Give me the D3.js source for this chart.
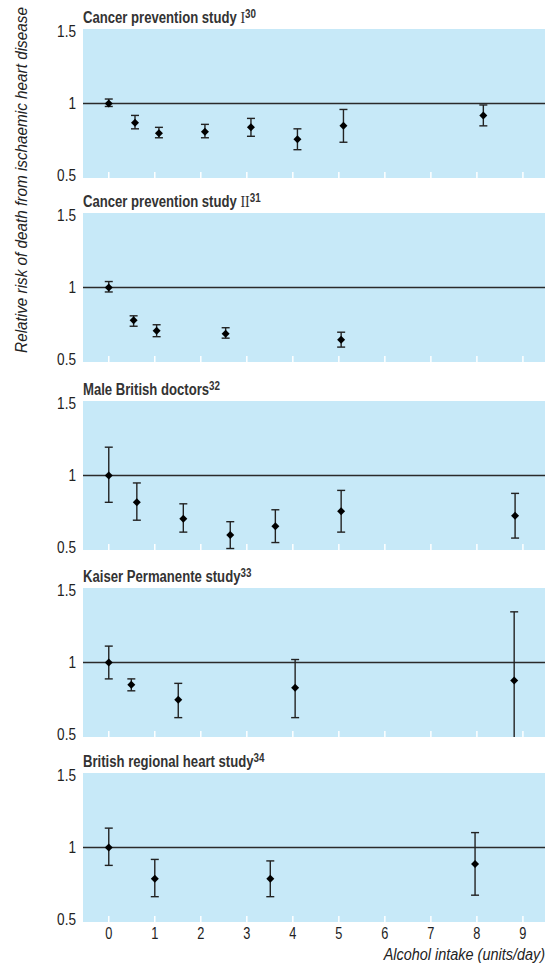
<!DOCTYPE html>
<html>
<head>
<meta charset="utf-8">
<script src="https://cdn.jsdelivr.net/npm/d3@7"></script>
<style>
  body { margin: 0; background: #fff; }
  svg text { font-family: "Liberation Sans", Arial, sans-serif; }
</style>
</head>
<body>
<svg id="chart" width="552" height="965"></svg>
<script>
// study names, roman numerals and reference numbers
const titles = ['Cancer prevention study ', 'Cancer prevention study ', 'Male British doctors', 'Kaiser Permanente study', 'British regional heart study'];
const numerals = ['I', 'II', '', '', ''];
const refs = ['30', '31', '32', '33', '34'];

// alcohol intake (units/day) for each point
const intake1 = [0, 0.57, 1.09, 2.09, 3.09, 4.1, 5.1, 8.14];
const intake2 = [0, 0.54, 1.04, 2.54, 5.05];
const intake3 = [0, 0.61, 1.62, 2.64, 3.62, 5.05, 8.83];
const intake4 = [0, 0.49, 1.51, 4.05, 8.81];
const intake5 = [0, 1, 3.51, 7.96];

// relative risk with 95% CI
const rr1 = [1.0, 0.87, 0.80, 0.81, 0.84, 0.76, 0.85, 0.92];
const lo1 = [0.98, 0.83, 0.77, 0.77, 0.78, 0.69, 0.74, 0.85];
const hi1 = [1.03, 0.92, 0.84, 0.86, 0.90, 0.83, 0.96, 0.99];

const rr2 = [1.0, 0.78, 0.71, 0.69, 0.65];
const lo2 = [0.97, 0.74, 0.67, 0.66, 0.60];
const hi2 = [1.04, 0.81, 0.75, 0.73, 0.70];

const rr3 = [1.0, 0.82, 0.71, 0.60, 0.66, 0.76, 0.73];
const lo3 = [0.82, 0.70, 0.62, 0.51, 0.55, 0.62, 0.58];
const hi3 = [1.19, 0.95, 0.81, 0.69, 0.77, 0.90, 0.88];

const rr4 = [1.0, 0.85, 0.75, 0.83, 0.88];
const lo4 = [0.89, 0.81, 0.63, 0.63, 0.5];
const hi4 = [1.11, 0.89, 0.86, 1.02, 1.34];

const rr5 = [1.0, 0.79, 0.79, 0.89];
const lo5 = [0.88, 0.67, 0.67, 0.68];
const hi5 = [1.13, 0.92, 0.91, 1.10];

const xTicks = [0, 1, 2, 3, 4, 5, 6, 7, 8, 9];
const yTicks = [0.5, 1, 1.5];

const studies = [
  [intake1, rr1, lo1, hi1],
  [intake2, rr2, lo2, hi2],
  [intake3, rr3, lo3, hi3],
  [intake4, rr4, lo4, hi4],
  [intake5, rr5, lo5, hi5]
];

const svg = d3.select('#chart');
const left = 83, right = 545, panelH = 149;
const tops = [29, 213, 401, 588, 773];

const x = d3.scaleLinear().domain([-0.56, 9.48]).range([left, right]);

const diamond = d3.symbol().type(d3.symbolSquare).size(32);

// condensed look: squeeze text horizontally around its anchor
const squeeze = (px, py, sx) => 'translate(' + px + ',' + py + ') scale(' + sx + ',1)';

studies.forEach(function(s, i) {
  const top = tops[i];
  const y = d3.scaleLinear().domain([0.5, 1.5]).range([top + panelH, top]);
  const g = svg.append('g');

  g.append('rect')
    .attr('x', left).attr('y', top)
    .attr('width', right - left).attr('height', panelH)
    .attr('fill', '#c7e9f8');

  // small white ticks inside bottom edge
  g.selectAll('.xt').data(xTicks).enter().append('line')
    .attr('x1', d => x(d)).attr('x2', d => x(d))
    .attr('y1', top + panelH).attr('y2', top + panelH - 6)
    .attr('stroke', '#fff').attr('stroke-width', 1.5);

  // reference line at 1
  g.append('line')
    .attr('x1', left).attr('x2', right)
    .attr('y1', y(1)).attr('y2', y(1))
    .attr('stroke', '#2a2a2a').attr('stroke-width', 1.4);

  // y tick labels
  g.selectAll('.yl').data(yTicks).enter().append('text')
    .attr('transform', d => squeeze(76, y(d), 0.85))
    .attr('dy', d => d === 1.5 ? '0.5em' : d === 0.5 ? '0.2em' : '0.36em')
    .attr('text-anchor', 'end')
    .attr('font-size', 16).attr('fill', '#222')
    .text(d => d);

  // title
  const t = g.append('text')
    .attr('transform', squeeze(left, top - 6, 0.82))
    .attr('font-size', 16).attr('font-weight', 'bold').attr('fill', '#333');
  t.append('tspan').text(titles[i]);
  if (numerals[i]) {
    t.append('tspan').attr('font-family', '"Liberation Serif", serif')
      .attr('font-weight', 'normal').attr('font-size', 17).text(numerals[i]);
  }
  t.append('tspan').attr('font-size', 12).attr('dy', -5).text(refs[i]);

  const pts = s[0].map((d, j) => ({ x: d, rr: s[1][j], lo: s[2][j], hi: s[3][j] }));

  const bars = g.selectAll('.pt').data(pts).enter().append('g');
  bars.append('line')
    .attr('x1', d => x(d.x)).attr('x2', d => x(d.x))
    .attr('y1', d => y(d.lo)).attr('y2', d => y(d.hi))
    .attr('stroke', '#222').attr('stroke-width', 1.4);
  bars.append('line')
    .attr('x1', d => x(d.x) - 4).attr('x2', d => x(d.x) + 4)
    .attr('y1', d => y(d.hi)).attr('y2', d => y(d.hi))
    .attr('stroke', '#222').attr('stroke-width', 1.4);
  bars.filter(d => d.lo > 0.5).append('line')
    .attr('x1', d => x(d.x) - 4).attr('x2', d => x(d.x) + 4)
    .attr('y1', d => y(d.lo)).attr('y2', d => y(d.lo))
    .attr('stroke', '#222').attr('stroke-width', 1.4);
  bars.append('path')
    .attr('d', diamond)
    .attr('transform', d => 'translate(' + x(d.x) + ',' + y(d.rr) + ') rotate(45)')
    .attr('fill', '#000');
});

// x tick labels under last panel
svg.selectAll('.xl').data(xTicks).enter().append('text')
  .attr('transform', d => squeeze(x(d), 939, 0.8))
  .attr('text-anchor', 'middle')
  .attr('font-size', 16).attr('fill', '#222')
  .text(d => d);

svg.append('text')
  .attr('transform', squeeze(right, 960, 0.85))
  .attr('text-anchor', 'end')
  .attr('font-size', 17).attr('font-style', 'italic').attr('fill', '#222')
  .text('Alcohol intake (units/day)');

svg.append('text')
  .attr('transform', 'translate(27,180) rotate(-90) scale(0.9,1)')
  .attr('text-anchor', 'middle')
  .attr('font-size', 17).attr('font-style', 'italic').attr('fill', '#222')
  .text('Relative risk of death from ischaemic heart disease');
</script>
</body>
</html>
